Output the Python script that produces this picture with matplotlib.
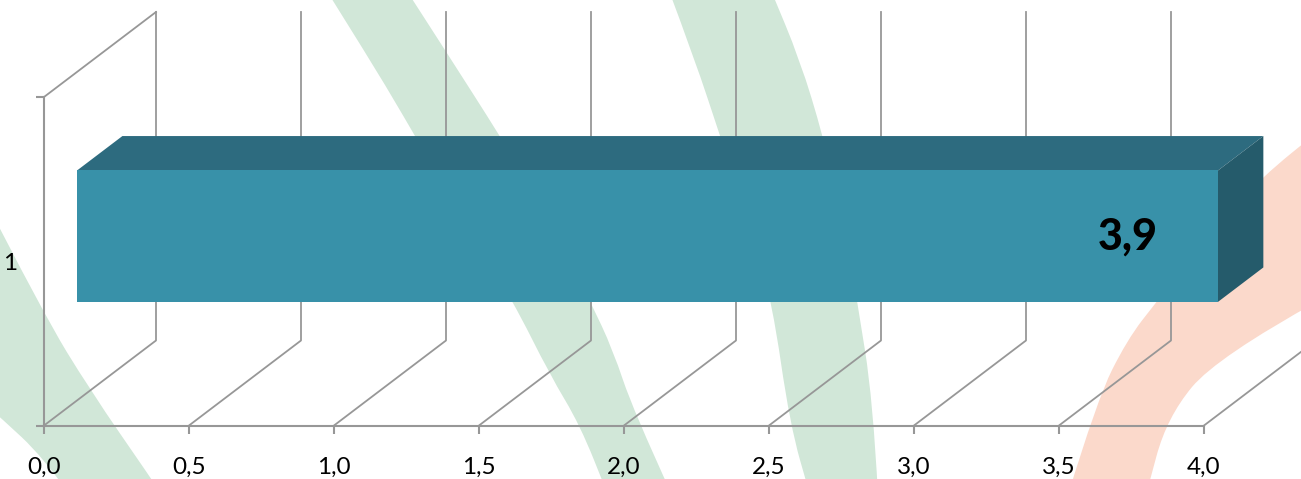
import matplotlib
matplotlib.use("Agg")
import matplotlib.pyplot as plt
from matplotlib.patches import Polygon, PathPatch
from matplotlib.path import Path

plt.rcParams['font.family'] = ['Lato', 'DejaVu Sans']

# Chart data
categories = ["1"]
values = [3.9]
value_ticks = [0.0, 0.5, 1.0, 1.5, 2.0, 2.5, 3.0, 3.5, 4.0]

W, H = 1301, 479
GRID = "#979797"
FRONT, TOP, SIDE = "#3891A9", "#2D6B7F", "#255B6B"
GREEN, ORANGE = "#D1E7D8", "#FBD9CB"

fig = plt.figure(figsize=(W / 100, H / 100), dpi=100, facecolor="white")
ax = fig.add_axes([0, 0, 1, 1], facecolor="none")

# Faded logo swooshes behind the plot: each has two edges, in pixels from the top left
swooshes = [
    (GREEN, [(-20, 190), (43, 313), (90, 390), (150, 477), (162, 495)],
            [(70, 495), (43, 457), (0, 417), (-20, 400)]),
    (GREEN, [(325, -12), (370, 60), (400, 110), (455, 205), (513, 301), (550, 375),
             (580, 425), (608, 495)],
            [(672, 495), (633, 410), (613, 350), (590, 301), (545, 210), (500, 136),
             (445, 50), (405, -12)]),
    (GREEN, [(668, -12), (695, 60), (720, 136), (750, 225), (772, 301), (790, 425),
             (810, 495)],
            [(878, 495), (873, 400), (857, 301), (845, 225), (823, 136), (800, 60),
             (770, -12)]),
    (ORANGE, [(1068, 495), (1097, 400), (1127, 340), (1157, 301), (1218, 225),
              (1262, 177), (1320, 130)],
             [(1320, 300), (1217, 357), (1167, 417), (1146, 495)]),
]


def smooth_edge(points):
    """Quadratic segments through the midpoints of consecutive control points."""
    verts, codes = [points[0]], [Path.LINETO]
    for p, q in zip(points[1:-1], points[2:]):
        mid = ((p[0] + q[0]) / 2, (p[1] + q[1]) / 2)
        verts += [p, mid]
        codes += [Path.CURVE3, Path.CURVE3]
    verts.append(points[-1])
    codes.append(Path.LINETO)
    return verts, codes


for colour, edge_a, edge_b in swooshes:
    va, ca = smooth_edge(edge_a)
    vb, cb = smooth_edge(edge_b)
    verts = va + vb + [va[0]]
    codes = [Path.MOVETO] + ca[1:] + cb + [Path.CLOSEPOLY]
    verts = [(x / W, 1 - y / H) for x, y in verts]
    ax.add_patch(PathPatch(Path(verts, codes), transform=fig.transFigure,
                           facecolor=colour, edgecolor="none", zorder=0))

# Scales: 290 px per value unit from x=44; category band spans y=425.5 to y=97
PX_X, PX_Y = 290.0, 328.5
ax.set_xlim(-44 / PX_X, (W - 44) / PX_X)
ax.set_ylim(-(H - 425.5) / PX_Y, 1 + 97 / PX_Y)

# Oblique projection: depth 0 is the front edge of the floor, depth 1 the back wall
DX, DY = 112 / PX_X, 85 / PX_Y


def project(v, c, depth):
    return v + depth * DX, c + depth * DY


# Gridlines run over the floor and then up the back wall
line = dict(color=GRID, lw=1.3, zorder=2, solid_capstyle="projecting")
for v in value_ticks:
    xs, ys = zip(project(v, 0, 0), project(v, 0, 1), project(v, 1, 1))
    ax.plot(xs, ys, **line)
xs, ys = zip(project(0, 1, 0), project(0, 1, 1))
ax.plot(xs, ys, **line)

# Axes
for side in ("top", "right"):
    ax.spines[side].set_visible(False)
ax.spines["bottom"].set_position(("data", 0))
ax.spines["bottom"].set_bounds(0, max(value_ticks))
ax.spines["left"].set_position(("data", 0))
ax.spines["left"].set_bounds(0, 1)
for side in ("bottom", "left"):
    ax.spines[side].set_color(GRID)
    ax.spines[side].set_linewidth(1.5)

ax.set_xticks(value_ticks)
ax.set_xticklabels([f"{v:.1f}".replace(".", ",") for v in value_ticks], fontsize=17.5)
ax.tick_params(axis="x", length=5.8, width=1.5, color=GRID, pad=17, labelcolor="black")
ax.set_yticks([0, 0.5, 1], labels=["", categories[0], ""], fontsize=17.5)
ax.tick_params(axis="y", length=5.8, width=1.5, color=GRID, pad=13.5)
ax.yaxis.get_major_ticks()[1].tick1line.set_visible(False)

# The bar box sits in the middle 40% of the category depth and height
NEAR, FAR = 0.295, 0.70
LOW, HIGH = 0.30, 0.70
LENGTH_GAIN = 1.0088  # near plane of the box is drawn slightly larger

for value in values:
    end = value * LENGTH_GAIN
    front = [project(0, LOW, NEAR), project(end, LOW, NEAR),
             project(end, HIGH, NEAR), project(0, HIGH, NEAR)]
    top = [project(0, HIGH, NEAR), project(end, HIGH, NEAR),
           project(end, HIGH, FAR), project(0, HIGH, FAR)]
    side = [project(end, LOW, NEAR), project(end, LOW, FAR),
            project(end, HIGH, FAR), project(end, HIGH, NEAR)]
    ax.add_patch(Polygon(top, facecolor=TOP, edgecolor="none", zorder=5))
    ax.add_patch(Polygon(side, facecolor=SIDE, edgecolor="none", zorder=5))
    ax.add_patch(Polygon(front, facecolor=FRONT, edgecolor="none", zorder=6))
    ax.annotate(f"{value:.1f}".replace(".", ","),
                xy=project(end, 0.5, NEAR), xytext=(-65, 0),
                textcoords="offset points", ha="center", va="center",
                fontsize=31, fontweight=900, color="black", zorder=7)

fig.savefig("out.png", dpi=100)
